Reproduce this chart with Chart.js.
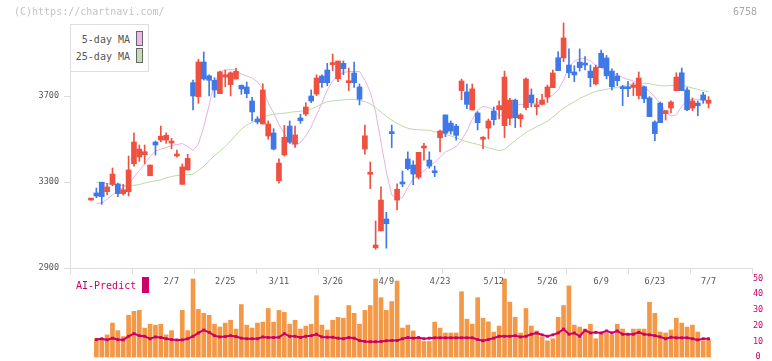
<!DOCTYPE html>
<html>
<head>
<meta charset="utf-8">
<script src="https://cdn.jsdelivr.net/npm/chart.js@4/dist/chart.umd.min.js"></script>
<style>
  body { margin: 0; background: #fff; }
  #cuadro { position: relative; width: 772px; height: 361px; overflow: hidden; font-family: "DejaVu Sans Mono", monospace; }
  canvas { position: absolute; left: 0; top: 0; }
  .txt { position: absolute; white-space: nowrap; font-size: 10px; line-height: 12px; }
  #marca { left: 14px; top: 6px; color: #c4c4c4; }
  #codigo { right: 15px; top: 6px; color: #a8a8a8; }
  #leyenda { position: absolute; left: 70px; top: 24px; width: 79px; height: 48px; box-sizing: border-box; border: 1px solid #ddd; background: #fff; }
  .ley { right: 642px; color: #555; }
  .muestra { position: absolute; left: 136px; width: 7px; height: 15px; box-sizing: border-box; border: 1px solid #666; }
  #ai { left: 76px; top: 280px; color: #cc0066; }
  #aiCuadro { position: absolute; left: 142px; top: 277px; width: 7px; height: 16px; background: #cc0066; }
</style>
</head>
<body>
<div id="cuadro">
  <canvas id="volChart" width="772" height="361"></canvas>
  <canvas id="precioChart" width="772" height="361"></canvas>
  <div class="txt" id="marca">(C)https://chartnavi.com/</div>
  <div class="txt" id="codigo">6758</div>
  <div id="leyenda"></div>
  <div class="txt ley" style="top:34px">5-day MA</div>
  <div class="muestra" style="top:31px; background:#ebb9eb"></div>
  <div class="txt ley" style="top:51px">25-day MA</div>
  <div class="muestra" style="top:48px; background:#c0e0b2"></div>
  <div class="txt" id="ai">AI-Predict</div>
  <div id="aiCuadro"></div>
</div>
<script>
// Fechas (días hábiles)
const fechas = [
  '1/17','1/20','1/21','1/22','1/23','1/24','1/27','1/28','1/29','1/30',
  '1/31','2/3','2/4','2/5','2/6','2/7','2/10','2/12','2/13','2/14',
  '2/17','2/18','2/19','2/20','2/21','2/25','2/26','2/27','2/28','3/3',
  '3/4','3/5','3/6','3/7','3/10','3/11','3/12','3/13','3/14','3/17',
  '3/18','3/19','3/21','3/24','3/25','3/26','3/27','3/28','3/31','4/1',
  '4/2','4/3','4/4','4/7','4/8','4/9','4/10','4/11','4/14','4/15',
  '4/16','4/17','4/18','4/21','4/22','4/23','4/24','4/25','4/28','4/30',
  '5/1','5/2','5/7','5/8','5/9','5/12','5/13','5/14','5/15','5/16',
  '5/19','5/20','5/21','5/22','5/23','5/26','5/27','5/28','5/29','5/30',
  '6/2','6/3','6/4','6/5','6/6','6/9','6/10','6/11','6/12','6/13',
  '6/16','6/17','6/18','6/19','6/20','6/23','6/24','6/25','6/26','6/27',
  '6/30','7/1','7/2','7/3','7/4','7/7'
];
const etiquetas = ['2/7','2/25','3/11','3/26','4/9','4/23','5/12','5/26','6/9','6/23','7/7'];
const ticksPrecio = [2900, 3300, 3700];
const ticksVolumen = [0, 10, 20, 30, 40, 50];

const aperturas = [
  3216,3249,3299,3255,3289,3291,3246,3255,3385,3416,
  3427,3329,3486,3495,3495,3481,3421,3289,3356,3762,
  3697,3858,3794,3773,3711,3788,3753,3779,3750,3742,
  3677,3593,3570,3514,3528,3306,3426,3560,3477,3598,
  3616,3700,3709,3793,3821,3846,3780,3852,3762,3807,
  3742,3453,3336,2994,3073,3128,3529,3216,3300,3407,
  3379,3322,3458,3402,3351,3506,3612,3574,3560,3725,
  3719,3635,3621,3499,3551,3630,3636,3562,3596,3681,
  3594,3646,3705,3650,3661,3695,3739,3878,3877,3844,
  3812,3858,3849,3816,3756,3899,3877,3816,3793,3740,
  3740,3740,3702,3743,3691,3579,3667,3618,3644,3725,
  3808,3728,3644,3667,3705,3666
];
const maximos = [
  3216,3272,3299,3294,3365,3295,3289,3421,3529,3472,
  3472,3379,3491,3560,3529,3503,3449,3384,3429,3774,
  3871,3905,3799,3785,3816,3821,3812,3830,3751,3765,
  3694,3604,3757,3584,3548,3408,3563,3584,3560,3615,
  3669,3728,3799,3799,3852,3895,3863,3863,3830,3858,
  3756,3565,3393,3119,3278,3159,3565,3291,3351,3440,
  3399,3438,3480,3440,3374,3542,3612,3584,3568,3779,
  3756,3756,3627,3511,3593,3649,3677,3816,3689,3686,
  3618,3785,3733,3689,3708,3751,3821,3906,4040,3919,
  3841,3919,3883,3844,3844,3914,3889,3826,3806,3750,
  3768,3762,3812,3746,3697,3584,3672,3632,3678,3808,
  3830,3739,3691,3677,3717,3697
];
const minimos = [
  3216,3227,3196,3240,3283,3232,3239,3235,3374,3396,
  3384,3329,3425,3487,3480,3455,3415,3289,3356,3635,
  3666,3774,3700,3694,3711,3743,3700,3779,3708,3692,
  3584,3570,3570,3499,3449,3294,3421,3480,3461,3573,
  3608,3669,3702,3740,3748,3818,3767,3799,3725,3740,
  3658,3430,3269,2987,3073,2992,3460,3170,3278,3356,
  3287,3315,3402,3364,3325,3440,3511,3523,3495,3683,
  3641,3635,3542,3455,3501,3565,3593,3506,3565,3553,
  3557,3635,3649,3612,3658,3670,3739,3818,3860,3785,
  3767,3816,3821,3743,3751,3832,3780,3728,3748,3655,
  3697,3702,3686,3669,3604,3492,3576,3588,3621,3725,
  3725,3632,3632,3608,3666,3644
];
const cierres = [
  3216,3235,3232,3277,3337,3246,3264,3356,3486,3453,
  3441,3379,3472,3513,3517,3483,3430,3370,3410,3700,
  3858,3779,3773,3728,3812,3799,3808,3815,3733,3711,
  3626,3579,3728,3570,3453,3388,3508,3485,3519,3585,
  3649,3677,3784,3762,3762,3852,3863,3827,3765,3762,
  3685,3515,3345,3007,3216,3106,3525,3266,3291,3362,
  3337,3438,3467,3374,3343,3537,3527,3537,3517,3770,
  3661,3733,3576,3502,3584,3590,3655,3788,3681,3599,
  3612,3779,3669,3654,3681,3742,3807,3818,3970,3808,
  3798,3832,3844,3785,3833,3832,3794,3743,3771,3734,
  3734,3751,3784,3687,3604,3525,3576,3632,3672,3788,
  3725,3636,3677,3655,3681,3681
];
const ma5 = [
  null,
  3201,3202,3219,3240,3260,3274,3291,3323,3353,3384,
  3418,3444,3453,3460,3470,3474,3479,3465,3446,3477,
  3556,3658,3760,3812,3821,3823,3821,3802,3793,3784,
  3765,3733,3667,3621,3567,3526,3481,3470,3484,3514,
  3556,3612,3667,3728,3770,3798,3809,3814,3814,3814,
  3774,3719,3626,3486,3347,3240,3224,3228,3274,3314,
  3335,3351,3377,3391,3414,3440,3451,3465,3495,3537,
  3591,3635,3651,3647,3635,3607,3616,3656,3660,3661,
  3662,3663,3667,3679,3691,3705,3728,3774,3833,3863,
  3872,3875,3863,3842,3830,3821,3807,3797,3786,3777,
  3770,3760,3744,3721,3695,3665,3626,3606,3612,3653,
  3681,3685,3685,3681,3673
];
const ma25 = [
  null,
  3297,3297,3293,3288,3286,3284,3283,3285,3288,3295,
  3301,3305,3310,3319,3326,3330,3333,3334,3336,3353,
  3373,3398,3423,3444,3465,3491,3519,3546,3565,3578,
  3590,3602,3609,3615,3618,3620,3624,3627,3629,3633,
  3640,3650,3663,3674,3677,3680,3682,3684,3684,3680,
  3675,3663,3647,3626,3605,3588,3572,3560,3550,3545,
  3543,3542,3540,3534,3529,3522,3514,3506,3496,3487,
  3481,3475,3467,3459,3453,3446,3451,3472,3493,3512,
  3530,3544,3557,3570,3583,3602,3623,3644,3659,3673,
  3689,3700,3712,3722,3726,3731,3735,3740,3746,3753,
  3757,3758,3759,3758,3752,3748,3747,3749,3750,3750,
  3744,3737,3731,3724,3720
];
const volumen = [
  null,
  11.6,11.6,14.1,21.6,16.8,13,26.6,29.1,29.7,18.4,
  20.9,20.3,20.9,14.1,16.8,10.5,29.7,16.8,49.7,30.3,
  27.8,26.6,20.9,19.1,21.6,23.4,17.8,33.4,20.3,18.4,
  21.6,22.2,30.9,22.2,29.7,28.4,20.9,23.4,17.8,19.7,
  20.9,39.1,20.3,17.2,23.4,25.3,24.7,32.8,27.8,20.9,
  29.7,32.8,49.7,37.8,29.7,35.3,48.4,18.4,20.3,16.6,
  12.2,9.9,9.9,22.2,18.4,15.3,15.3,15.3,41.6,24.1,
  20.9,37.8,24.7,22.4,15.9,19.7,49.7,34.9,25.3,15.3,
  30.9,19.7,16.6,12.8,10.3,11.6,25.3,32.8,45.3,20.3,
  19.1,17.8,20.9,11.6,15.3,15.3,14.1,20.9,17.8,14.7,
  17.8,17.8,17.8,34.9,27.8,15.9,15.3,17.2,24.7,21.6,
  19.1,20.3,15.9,10.3,10.9
];
const aiPredict = [
  null,
  11.1,11.6,10.9,12,11.1,10.9,13.2,14.9,13.6,13.2,
  11.6,12.8,12.4,11.6,11.1,10.9,10.9,11.6,13.2,15.3,
  17.2,15.7,13.6,12.8,13,13.6,13,12,11.6,11.6,
  11.6,12.8,12.4,12.4,12.6,14.9,13.2,13.2,12.4,13.2,
  13.6,14.5,12.8,12.6,12.6,12,11.6,12.4,12,10.5,
  9.9,9.7,9.7,9.9,10.3,10.5,10.5,11.6,12.4,12,
  12.4,11.6,12,12.2,12.2,12.2,12.2,12.2,12.2,12.2,
  12.2,11.1,10.3,11.1,12,13.2,13.2,13.2,13.6,12.8,
  13.2,14.5,15.3,14.1,13.2,14.1,15.3,17.8,14.5,15.3,
  13.2,17,15.3,15.7,15.3,16.6,15.3,16.6,14.5,14.5,
  14.5,15.7,14.5,14.1,13.6,12.8,11.6,12.6,12.2,12.2,
  12.2,11.6,10.9,11.6,11.6
];

// Colores
const ROJO = '#ef5040';
const AZUL = '#4078e8';
const FUENTE = '"DejaVu Sans Mono", monospace';

// Rango del eje x (índice de día)
const xMin = -3.91;
const xMax = 123.09;

const velas = fechas.map((f, i) => ({ x: i, y: [aperturas[i], cierres[i]] }));
const mechas = fechas.map((f, i) => ({ x: i, y: [minimos[i], maximos[i]] }));
const colorVela = fechas.map((f, i) => cierres[i] >= aperturas[i] ? ROJO : AZUL);
const puntos = arr => arr.map((v, i) => ({ x: i, y: v }));
const idxEtiquetas = etiquetas.map(e => fechas.indexOf(e));

// Gráfico de precios (velas + medias móviles)
new Chart(document.getElementById('precioChart'), {
  type: 'bar',
  data: {
    datasets: [
      { type: 'bar', data: velas, backgroundColor: colorVela, barThickness: 5, minBarLength: 2, grouped: false, order: 1, clip: false },
      { type: 'bar', data: mechas, backgroundColor: colorVela, barThickness: 1, grouped: false, order: 2, clip: false },
      { type: 'line', data: puntos(ma25), borderColor: '#b8dba8', borderWidth: 1, pointRadius: 0, tension: 0, order: 3 },
      { type: 'line', data: puntos(ma5), borderColor: '#e8b0e8', borderWidth: 1, pointRadius: 0, tension: 0, order: 3 }
    ]
  },
  options: {
    responsive: false,
    animation: false,
    devicePixelRatio: 1,
    layout: { padding: { top: 24, right: 20, bottom: 73, left: 0 } },
    plugins: { legend: { display: false }, tooltip: { enabled: false } },
    scales: {
      x: {
        type: 'linear', position: 'bottom', weight: 0, min: xMin, max: xMax, offset: false,
        ticks: { display: false },
        grid: { drawOnChartArea: false, offset: false, tickLength: 6, color: '#ddd' },
        border: { color: '#ddd' },
        afterBuildTicks: s => {
          const t = [];
          for (let k = 0; k <= 11; k++) t.push({ value: xMin + k * (xMax - xMin) / 11 });
          s.ticks = t;
        },
        afterFit: s => { s.height = 0; }
      },
      xl: {
        type: 'linear', position: 'bottom', weight: 1, min: xMin, max: xMax, offset: false,
        grid: { display: false, drawTicks: false, offset: false },
        border: { display: false },
        ticks: {
          autoSkip: false, maxRotation: 0, padding: 9, color: '#555',
          font: { family: FUENTE, size: 8.5 },
          callback: v => fechas[v]
        },
        afterBuildTicks: s => { s.ticks = idxEtiquetas.map(v => ({ value: v })); },
        afterFit: s => { s.height = 20; s.paddingLeft = 0; s.paddingRight = 0; }
      },
      y: {
        position: 'left', min: 2900, max: 4034.9,
        ticks: { color: '#555', padding: 5, font: { family: FUENTE, size: 8.5 }, callback: v => String(v) },
        grid: { drawOnChartArea: false, tickLength: 6, color: '#ddd' },
        border: { color: '#ddd' },
        afterBuildTicks: s => { s.ticks = ticksPrecio.map(v => ({ value: v })); },
        afterFit: s => { s.width = 70; s.paddingTop = 0; s.paddingBottom = 0; }
      }
    }
  }
});

// Gráfico de volumen + AI-Predict
new Chart(document.getElementById('volChart'), {
  type: 'bar',
  data: {
    datasets: [
      { type: 'line', data: puntos(aiPredict), borderColor: '#cc0066', borderWidth: 2, pointStyle: 'rect', pointRadius: 2, pointBackgroundColor: '#cc0066', pointBorderWidth: 0, tension: 0, order: 1, clip: false },
      { type: 'bar', data: puntos(volumen), backgroundColor: '#f29846', barThickness: 4, order: 2, clip: false }
    ]
  },
  options: {
    responsive: false,
    animation: false,
    devicePixelRatio: 1,
    layout: { padding: { top: 278.5, right: 0, bottom: 2.5, left: 70 } },
    plugins: { legend: { display: false }, tooltip: { enabled: false } },
    scales: {
      x: { type: 'linear', min: xMin, max: xMax, offset: false, grid: { offset: false }, display: false },
      y: {
        position: 'right', min: 0, max: 50,
        ticks: { color: '#cc0066', padding: 1, crossAlign: 'center', font: { family: FUENTE, size: 8.5 } },
        grid: { display: false, drawTicks: false },
        border: { display: false },
        afterBuildTicks: s => { s.ticks = ticksVolumen.map(v => ({ value: v })); },
        afterFit: s => { s.width = 20; s.paddingTop = 0; s.paddingBottom = 0; }
      }
    }
  }
});
</script>
</body>
</html>
